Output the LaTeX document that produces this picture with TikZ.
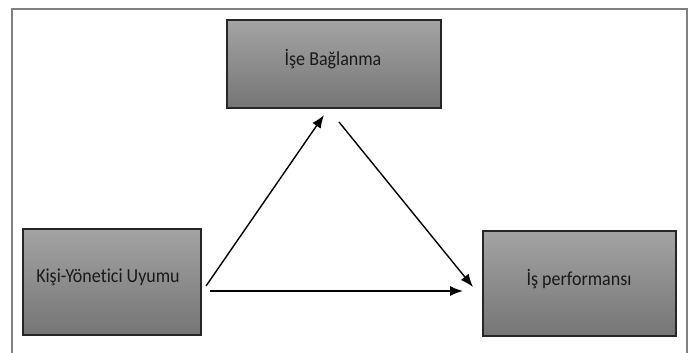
\documentclass[tikz,border=0pt]{standalone}
\usepackage{fontspec}
\setmainfont{Carlito}[Ligatures={NoCommon,NoRare,NoContextual}]
\usetikzlibrary{arrows.meta}
\newcommand{\tallbox}[1]{\scalebox{1}[1.1]{#1}}
\begin{document}
\begin{tikzpicture}[x=1bp,y=-1bp,
  boxstyle/.style={draw=black!85,line width=1.3bp,top color=black!36,bottom color=black!54},
  arr/.style={line width=1.4bp,-{Latex[length=13bp,width=10bp]}},
  lbl/.style={font=\fontsize{18bp}{20bp}\selectfont,inner sep=0pt,text=black!90}]
\useasboundingbox (0,0) rectangle (691,352);
\draw[black!50,line width=1.3bp] (12,360) -- (12,9) -- (687,9) -- (687,360);
\path[boxstyle] (227,20) rectangle (441,108);
\path[boxstyle] (23,229) rectangle (201,335);
\path[boxstyle] (483,231) rectangle (676,336);
\node[lbl] (top) at (333,59) {\tallbox{İşe Bağlanma}};
\node[lbl] (left) at (108,277) {\tallbox{Kişi-Yönetici Uyumu}};
\node[lbl] (right) at (579,279) {\tallbox{İş performansı}};
\coordinate (a1s) at (206,286);
\coordinate (a1e) at (324,115);
\coordinate (a2s) at (339,122);
\coordinate (a2e) at (473,287);
\coordinate (a3s) at (210,291);
\coordinate (a3e) at (463,291);
\draw[arr] (a1s) -- (a1e);
\draw[arr] (a2s) -- (a2e);
\draw[arr] (a3s) -- (a3e);
\end{tikzpicture}
\end{document}
